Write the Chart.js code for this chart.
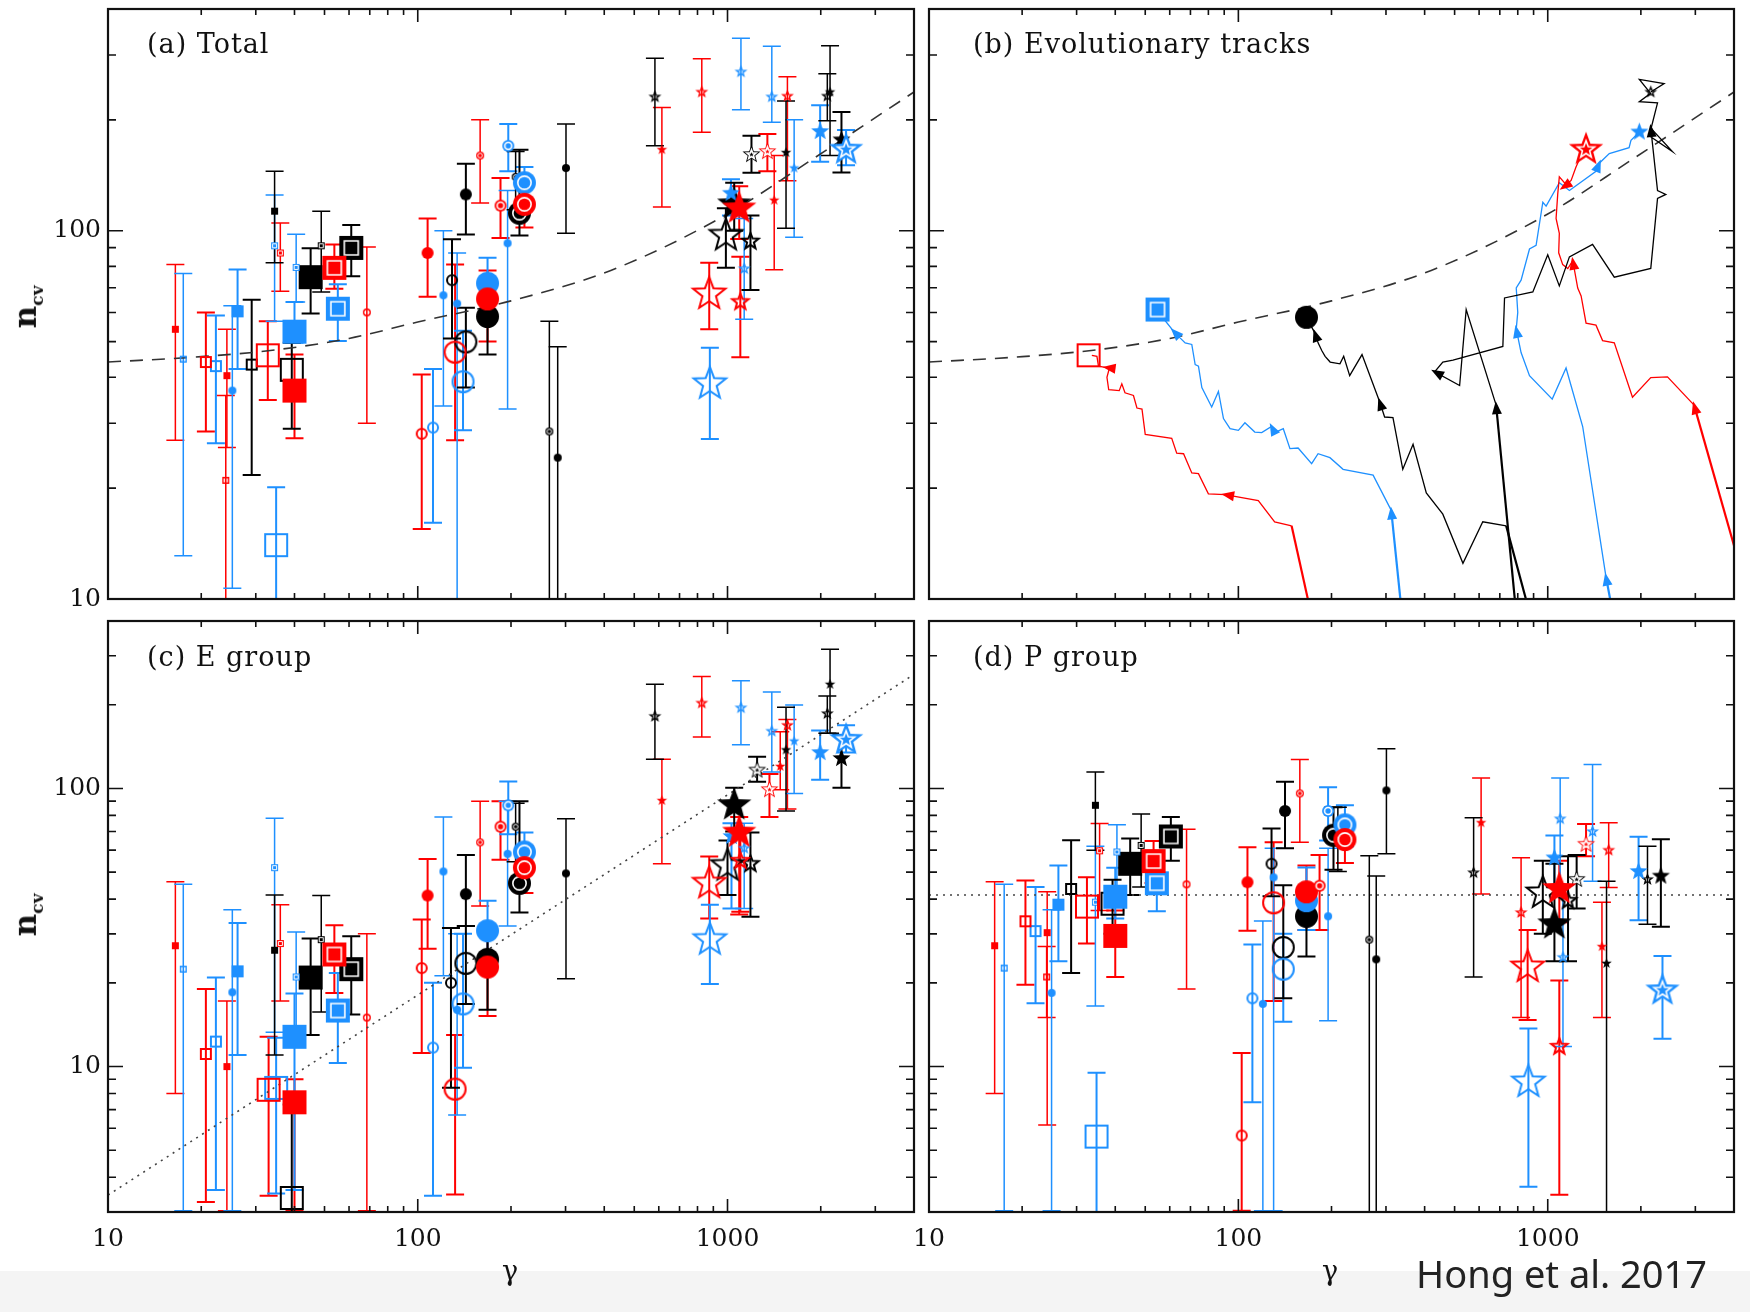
<!DOCTYPE html>
<html>
<head>
<meta charset="utf-8">
<title>n_cv versus gamma</title>
<script src="https://cdn.jsdelivr.net/npm/chart.js@4.4.1/dist/chart.umd.min.js"></script>
<style>
  body { margin: 0; width: 1750px; height: 1312px; position: relative; overflow: hidden; background: #fff; }
  canvas { position: absolute; }
  .band { position: absolute; left: 0; top: 1271px; width: 1750px; height: 41px; background: #f4f4f4; }
  .txt { position: absolute; white-space: nowrap; color: #111; font-family: "DejaVu Serif", serif; }
  .panel { font-size: 27px; line-height: 31px; letter-spacing: 1px; }
  .ncv { font-size: 31px; font-weight: bold; line-height: 36px; transform: translate(-50%, -50%) rotate(-90deg); }
  .ncv sub { font-size: 17px; }
  .gam { font-size: 27px; line-height: 31px; transform: translateX(-50%); }
  .credit { position: absolute; left: 1416px; top: 1250px; font-family: "Noto Sans", sans-serif; font-size: 38px; line-height: 46px; color: #222; white-space: nowrap; }
</style>
</head>
<body>
<div class="band"></div>
<canvas id="pa" width="946" height="710" style="left:-2px;top:-21px"></canvas>
<canvas id="pb" width="945" height="710" style="left:819px;top:-21px"></canvas>
<canvas id="pc" width="946" height="711" style="left:-2px;top:591px"></canvas>
<canvas id="pd" width="945" height="711" style="left:819px;top:591px"></canvas>

<div class="txt panel" style="left:147px;top:28px">(a) Total</div>
<div class="txt panel" style="left:973px;top:28px">(b) Evolutionary tracks</div>
<div class="txt panel" style="left:147px;top:641px">(c) E group</div>
<div class="txt panel" style="left:973px;top:641px">(d) P group</div>
<div class="txt ncv" style="left:31px;top:307px">n<sub>cv</sub></div>
<div class="txt ncv" style="left:31px;top:915px">n<sub>cv</sub></div>
<div class="txt gam" style="left:510px;top:1255px">γ</div>
<div class="txt gam" style="left:1330px;top:1255px">γ</div>
<div class="credit">Hong et al. 2017</div>

<script>
// axis ticks
const X_TICKS = [10, 20, 30, 40, 50, 60, 70, 80, 90, 100, 200, 300, 400, 500, 600, 700, 800, 900, 1000, 2000, 3000];
const X_LABELS = [10, 100, 1000];
const Y_TICKS_TOP = [10, 20, 30, 40, 50, 60, 70, 80, 90, 100, 200, 300];
const Y_TICKS_BOTTOM = [3, 4, 5, 6, 7, 8, 9, 10, 20, 30, 40, 50, 60, 70, 80, 90, 100, 200, 300];
const Y_LABELS = [10, 100];

// rows: [gamma, n_cv, lower, upper, marker]  marker = shape(s/c/t) fill(f/o/d) size(1-3)
const totalBlack = [
  [29.1, 43.3, 21.7, 64.9, 'so2'], [34.5, 113, 81.9, 145, 'sf1'], [39.2, 41.9, 29, 49.6, 'so3'],
  [45.1, 74.8, 59.6, 89.6, 'sf3'], [48.8, 91, 68.2, 113, 'sd1'], [61, 89.8, 75.2, 103.7, 'sd3'],
  [129, 73.4, 51, 94.8, 'co2'], [143, 49.9, 37.5, 61.8, 'co3'], [143, 125.5, 97.6, 152, 'cf2'],
  [168, 58.5, 46.1, 70, 'cf3'], [207, 140, 114, 164, 'cd1'], [213, 111.6, 97, 166, 'cd3'],
  [266, 28.5, 1, 56.8, 'cd1'], [283, 24.2, 1, 48.4, 'cf1'], [301, 148, 98.4, 195, 'cf1'],
  [583, 231, 170, 294, 'to1'], [988, 97.1, 79.3, 115, 'to3'], [1051, 118, 100, 135, 'tf3'],
  [1186, 93.6, 69, 110, 'to2'], [1195, 161, 143.6, 181, 'td2'], [1545, 163, 101.5, 225, 'tf1'],
  [2143, 238, 160, 318, 'tf1'], [2100, 232, 199, 267, 'to1'], [2333, 176.5, 144, 210, 'tf2']
];
const totalRed = [
  [16.5, 54, 27, 81, 'sf1'], [20.7, 44, 28.5, 60, 'so2'], [24.2, 40.4, 25.8, 54, 'sf1'],
  [24, 21, 1, 35.7, 'so1'], [32.8, 45.9, 34.7, 56.8, 'so3'], [36, 87, 68.5, 105, 'sd1'],
  [40, 36.8, 27.3, 46.1, 'sf3'], [53.8, 79.3, 69.6, 91.8, 'sd3'], [68.5, 60, 30, 90.3, 'co1'],
  [103, 28.1, 15.5, 40.7, 'co2'], [107.6, 87, 66.2, 108, 'cf2'], [132, 46.8, 27, 81, 'co3'],
  [159, 160, 119, 200, 'cd1'], [168, 65.3, 50, 78, 'cf3'], [185, 117, 95.5, 139, 'cd2'],
  [221, 118, 102, 132, 'cd3'], [614, 166, 116, 216, 'tf1'], [826, 238, 185, 293, 'to1'],
  [873, 67.3, 54, 81.8, 'to3'], [1091, 115, 95, 132, 'tf3'], [1100, 64.1, 45.3, 85, 'to2'],
  [1345, 164, 145, 183, 'td2'], [1415, 121, 78.3, 160, 'tf1'], [1561, 232, 136.7, 262, 'to1']
];
const totalBlue = [
  [17.5, 44.8, 13.1, 76.5, 'so1'], [22.3, 42.9, 26.5, 58.9, 'so2'], [25.2, 36.8, 10.7, 62.6, 'cf1'],
  [26.2, 60.4, 42.1, 78.5, 'sf2'], [34.5, 91, 56.8, 125, 'sd1'], [34.9, 14, 1, 20.1, 'so3'],
  [40, 53.2, 49.6, 64, 'sf3'], [40.5, 79.5, 64, 97.8, 'sd1'], [55.2, 61.4, 50.2, 71.6, 'sd3'],
  [112, 29.2, 16.1, 42.1, 'co2'], [121, 66.8, 33.4, 100, 'cf1'], [134, 63.4, 1, 87, 'cf1'],
  [140, 38.9, 28.7, 53.5, 'co3'], [168, 72, 60, 84.5, 'cf3'], [195, 92.5, 32.8, 128.5, 'cf1'],
  [196, 170, 145, 195, 'cd2'], [221, 135, 120, 149, 'cd3'], [877, 38.4, 27.2, 48.1, 'to3'],
  [1026, 126.4, 110, 138, 'tf2'], [1105, 270, 213, 333, 'to1'], [1132, 78.9, 57.5, 108, 'to1'],
  [1390, 231, 197, 317, 'to1'], [1641, 148, 96, 200, 'tf1'], [1991, 186, 154, 219, 'tf2'],
  [2414, 166, 150.6, 187.6, 'td3']
];

const eBlack = [
  [34.5, 26.2, 11, 41.4, 'sf1'], [39.2, 3.37, 1, 7.3, 'so3'], [45.1, 20.9, 13, 28.9, 'sf3'],
  [48.8, 28.6, 15.7, 41.2, 'sd1'], [61, 22.4, 15.4, 29.4, 'sd3'], [128, 20, 8.4, 31.5, 'co2'],
  [143, 23.5, 16.8, 32, 'co3'], [143, 41.7, 32, 57.6, 'cf2'], [168, 24.3, 16, 30, 'cf3'],
  [207, 72.9, 54.5, 88.4, 'cd1'], [213, 45.6, 35.8, 90, 'cd3'], [301, 49.5, 20.7, 77.8, 'cf1'],
  [583, 181.7, 127.4, 237, 'to1'], [1000, 52.8, 41.4, 65, 'to3'], [1051, 87.1, 70, 100.6, 'tf3'],
  [1186, 53.6, 34.6, 69.4, 'to2'], [1246, 116.4, 105.6, 130, 'td2'], [1545, 137.6, 82.9, 196, 'tf1'],
  [2143, 236.8, 158, 316.6, 'tf1'], [2100, 185.8, 158, 214.9, 'to1'], [2333, 128.2, 100.6, 155.6, 'tf2']
];
const eRed = [
  [16.5, 27.2, 8, 46.2, 'sf1'], [20.7, 11.1, 3.26, 19, 'so2'], [24.2, 10, 3.03, 17.2, 'sf1'],
  [33, 8.25, 3.43, 12.8, 'so3'], [36, 27.7, 17.2, 38.2, 'sd1'], [40, 7.44, 3.03, 9, 'sf3'],
  [53.8, 25.3, 18.4, 32.2, 'sd3'], [68.5, 15, 3.03, 30, 'co1'], [103, 22.6, 11.2, 33.8, 'co2'],
  [107.6, 41.2, 26.5, 55.8, 'cf2'], [132, 8.3, 3.47, 13, 'co3'], [159, 64, 37.8, 89.9, 'cd1'],
  [168, 22.8, 15.2, 30, 'cf3'], [185, 72.9, 55.4, 89.9, 'cd2'], [221, 51.9, 42.1, 62, 'cd3'],
  [614, 90.5, 53.6, 127.4, 'tf1'], [826, 202.8, 153, 252.6, 'to1'], [873, 45.6, 34.1, 56.9, 'to3'],
  [1091, 69.4, 35.2, 79, 'tf3'], [1100, 55, 36, 70, 'to2'], [1366, 99, 79, 112.7, 'td2'],
  [1480, 120, 99, 160, 'tf1'], [1561, 168.7, 84.3, 177, 'to1']
];
const eBlue = [
  [17.5, 22.4, 3.03, 45.2, 'so1'], [22.3, 12.3, 3.6, 20.9, 'so2'], [25.2, 18.5, 3.03, 36.6, 'cf1'],
  [26.2, 22, 11, 32.8, 'sf2'], [34.5, 51.9, 13.3, 78.2, 'sd1'], [34.9, 8.38, 3.5, 12.7, 'so3'],
  [40, 12.8, 3.6, 18.3, 'sf3'], [40.5, 21, 13.3, 30.5, 'sd1'], [55.2, 15.9, 10.3, 21.7, 'sd3'],
  [112, 11.7, 3.43, 20, 'co2'], [121, 50.3, 21.2, 79, 'cf1'], [134, 16, 6.7, 30, 'cf1'],
  [140, 16.8, 9.9, 30, 'co3'], [168, 30.8, 24, 39.5, 'cf3'], [195, 58.2, 32, 90, 'cf1'],
  [196, 87, 68.4, 106, 'cd2'], [221, 59.1, 50, 69.4, 'cd3'], [877, 28.6, 19.8, 38.2, 'to3'],
  [1030, 67.2, 37, 75, 'tf2'], [1105, 195, 143.6, 244, 'to1'], [1132, 61, 37, 75, 'to1'],
  [1390, 160.7, 114.5, 222, 'to1'], [1641, 148, 96, 199.7, 'tf1'], [1991, 134.6, 107.4, 161.7, 'tf2'],
  [2414, 149.6, 134.6, 168.7, 'td3']
];

const pBlack = [
  [28.8, 43.5, 21.7, 65.1, 'so2'], [34.5, 87, 60, 114.5, 'sf1'], [39.2, 38.5, 30, 47, 'so3'],
  [44.7, 53.6, 41.4, 66.1, 'sf3'], [48.5, 62.4, 44.2, 81, 'sd1'], [60.5, 67.2, 55, 79, 'sd3'],
  [128, 53.6, 41, 71.8, 'co2'], [139.7, 26.8, 17.6, 44.9, 'co3'], [141.5, 83, 61, 105.6, 'cf2'],
  [166, 34.7, 24.9, 44, 'cf3'], [209.7, 67.9, 50.3, 85.6, 'cd1'], [203, 67.9, 51, 85.6, 'cd3'],
  [265, 28.6, 1, 57.3, 'cd1'], [279, 24.3, 1, 48.4, 'cf1'], [301, 98.4, 58.2, 139, 'cf1'],
  [576, 49.8, 21, 78.5, 'to1'], [964, 42.1, 30, 55, 'to3'], [1051, 32.5, 23.9, 53.6, 'tf3'],
  [1163, 39.5, 23.9, 57, 'to2'], [1240, 47.1, 37, 57.6, 'td2'], [1549, 23.5, 1, 46.4, 'tf1'],
  [2101, 47.1, 32.5, 62, 'to1'], [2321, 48.4, 31.8, 65.7, 'tf2']
];
const pRed = [
  [16.3, 27.2, 8, 46.2, 'sf1'], [20.5, 33.3, 19.7, 46.7, 'so2'], [24.1, 30.3, 6.17, 42.5, 'sf1'],
  [24, 21, 15, 27, 'so1'], [32.4, 37.6, 27.7, 47.9, 'so3'], [35.6, 59.7, 36.4, 74.8, 'sd1'],
  [40, 29.5, 21, 36.4, 'sf3'], [53.2, 54.8, 45.7, 64.7, 'sd3'], [68, 45.2, 19, 71.3, 'co1'],
  [102.5, 5.65, 3.03, 11.2, 'co2'], [107, 46, 30.8, 61.4, 'cf2'], [130, 38.8, 17.2, 64.1, 'co3'],
  [158, 96, 64.1, 127, 'cd1'], [166, 42.5, 31, 52.8, 'cf3'], [183, 44.7, 31, 57.6, 'cd2'],
  [221, 65.5, 54, 75.2, 'cd3'], [609, 75.3, 41.7, 109, 'tf1'], [820, 35.8, 15, 56.3, 'to1'],
  [861, 22.8, 14.7, 31, 'to3'], [1090, 43.5, 33, 55, 'tf3'], [1090, 11.8, 3.46, 20.4, 'to2'],
  [1330, 63, 57, 74.5, 'td2'], [1497, 27, 15, 39, 'tf1'], [1574, 60, 44, 75.3, 'to1']
];
const pBlue = [
  [17.5, 22.6, 3.03, 45.2, 'so1'], [22.1, 30.7, 16.9, 44.2, 'so2'], [24.9, 18.4, 3.03, 36.6, 'cf1'],
  [26.2, 38.2, 23.9, 52.8, 'sf2'], [34.5, 39, 16.5, 62, 'sd1'], [34.8, 5.6, 1, 9.5, 'so3'],
  [40, 40.8, 34.1, 51.9, 'sf3'], [40.5, 59.1, 40, 74, 'sd1'], [54.5, 45.6, 36.2, 49.5, 'sd3'],
  [111, 17.6, 7.44, 27.5, 'co2'], [120, 16.8, 3.03, 33.4, 'cf1'], [130, 47.9, 3.03, 61, 'cf1'],
  [139.7, 22.4, 14.5, 30, 'co3'], [166, 39.5, 31, 52, 'cf3'], [195, 34.7, 14.6, 61, 'cf1'],
  [195, 83, 65, 101, 'cd2'], [221, 74, 62, 87, 'cd3'], [866, 8.8, 3.7, 13.7, 'to3'],
  [1051, 56.3, 45, 67.7, 'tf2'], [1097, 77.8, 45, 109, 'to1'], [1120, 24.7, 11.8, 45, 'to1'],
  [1396, 70, 46.4, 122, 'to1'], [1966, 50.3, 33.6, 67, 'tf2'], [2349, 18.8, 12.6, 25, 'td3']
];

// panel (b): evolutionary tracks [gamma, n_cv], start -> end
const redTrackA = [[170, 9.5], [148.6, 15.8], [131, 16.2], [116, 18.5], [90.6, 19.2], [80, 19.3], [74.3, 21.9],
  [70.7, 22], [66.5, 24.8], [63.2, 24.9], [60.9, 27.3], [50, 28], [48.8, 32.8], [47, 33], [45.8, 35.7],
  [43, 36.3], [42, 38.4], [41.2, 36.8], [38.1, 37], [37.6, 40], [38.3, 42.4], [37.5, 42.5], [35.3, 42.9],
  [34.9, 45.6], [33.6, 45.9]];
const blueTrackA = [[336, 9.5], [312, 17.4], [272.6, 21.7], [218, 22.5], [197.7, 24.2], [181, 24.8], [172.5, 23.3],
  [156, 25.7], [146.8, 25.6], [139.7, 29], [131, 28.3], [128, 29.4], [119, 28.3], [113, 28.4], [105, 30.1],
  [100, 28.7], [94, 29], [89.5, 30.9], [86.2, 36.6], [82, 33.2], [76.2, 37.5], [74.3, 42.9], [72.5, 43.3],
  [70.7, 49.1], [67.3, 49.6], [64.9, 51.1], [61.7, 53.4], [57.5, 57.5]];
const blackTrackA = [[870, 9.3], [734, 15.8], [616.6, 16.2], [532, 12.5], [458, 17], [405, 19.4], [367, 26.3],
  [340, 22.5], [316, 31.1], [297, 31.2], [286, 34.4], [251, 46.1], [229, 40.4], [219, 45.6], [213, 43.5],
  [198, 44], [190.7, 45.6], [186, 47.3], [181, 49.6], [176.6, 52.8], [171, 55.5]];
const blackTrackB = [[790, 9.2], [681, 33.6], [545, 61.1], [519, 38], [431, 41.4], [458, 44], [494, 44.5],
  [716, 48.5], [725, 65.7], [895, 68.2], [1000, 86], [1090, 70.8], [1175, 84.9], [1396, 91.8], [1641, 74.8],
  [2153, 79], [2264, 122.4], [2408, 125.5], [2264, 128.5], [2153, 190], [2529, 164], [2128, 181],
  [2264, 222.5], [1977, 224], [2150, 236], [1977, 257.6], [2378, 251], [2153, 238]];
const redTrackB = [[4365, 10.8], [2972, 33.6], [2438, 40.1], [2153, 39.9], [1879, 35.3], [1641, 49.6], [1504, 50.3],
  [1432, 55.4], [1330, 56.1], [1282, 66.5], [1250, 69.9], [1205, 82.9], [1161, 78.9], [1118, 80.9],
  [1085, 87.1], [1090, 98.4], [1064, 108], [1077, 125.5], [1090, 140], [1150, 133], [1120, 131],
  [1190, 137], [1234, 149], [1282, 160], [1320, 165]];
const blueTrackB = [[1650, 8.5], [1542, 11.5], [1297, 29.4], [1146, 42.4], [1034, 34.9], [873, 40.4], [820, 46.7],
  [791, 54.1], [800, 60], [791, 69.9], [820, 73.4], [873, 89.2], [917, 91.3], [964, 119.5], [988, 116.6],
  [1090, 135], [1175, 128.6], [1432, 145], [1468, 152.5], [1581, 162], [1832, 168], [1858, 176], [1960, 184]];
const trackEndsRed = [[32.8, 45.9, null, null, 'so3'], [1330, 166, null, null, 'td3']];
const trackEndsBlue = [[54.8, 61.1, null, null, 'sd3'], [1977, 185.4, null, null, 'tf2']];
const trackEndsBlack = [[166, 58.2, null, null, 'cf3'], [2153, 238, null, null, 'to1']];

// reference lines
const curveTotal = [[10, 44], [20, 45.5], [35, 47.5], [60, 51], [100, 56.5], [200, 64.5], [420, 78], [1000, 111], [1850, 155], [4000, 238]];
const lineE = [[10, 3.45], [4000, 257]];
const lineP = [[10, 41.4], [4000, 41.4]];

Chart.defaults.font.family = '"DejaVu Serif", serif';
Chart.defaults.color = '#111';

const BLACK = '#000000', RED = '#ff0000', BLUE = '#1e90ff';
const MARK_SIZE = { s: [7, 12, 24], c: [8, 12, 23], t: [11, 19, 36] };
const CAP = 9;

function isDecade(v) {
  const l = Math.log10(v);
  return Math.abs(l - Math.round(l)) < 1e-9;
}

function markerPath(g, shape, r) {
  g.beginPath();
  if (shape === 's') {
    g.rect(-r, -r, 2 * r, 2 * r);
  } else if (shape === 'c') {
    g.arc(0, 0, r, 0, Math.PI * 2);
  } else {
    for (let i = 0; i < 10; i++) {
      const rr = i % 2 ? r * 0.42 : r;
      const a = -Math.PI / 2 + i * Math.PI / 5;
      g.lineTo(rr * Math.cos(a), rr * Math.sin(a));
    }
    g.closePath();
  }
}

const markerCache = {};
function marker(code, color) {
  const key = code + color;
  if (markerCache[key]) return markerCache[key];
  const shape = code[0], fill = code[1], sz = +code[2];
  const d = MARK_SIZE[shape][sz - 1];
  const lw = sz === 1 ? 1.4 : 2;
  const c = document.createElement('canvas');
  c.width = c.height = Math.ceil(d + 4);
  const g = c.getContext('2d');
  g.translate(c.width / 2, c.height / 2);
  g.fillStyle = color;
  g.strokeStyle = color;
  g.lineWidth = lw;
  const r = d / 2;
  if (fill === 'f') {
    markerPath(g, shape, r);
    g.fill();
  } else if (fill === 'o') {
    markerPath(g, shape, r - lw / 2);
    g.stroke();
  } else {
    markerPath(g, shape, r);
    g.fill();
    g.strokeStyle = '#fff';
    g.lineWidth = sz === 1 ? 1 : 1.6;
    markerPath(g, shape, r * (shape === 't' ? 0.5 : 0.58));
    g.stroke();
  }
  markerCache[key] = c;
  return c;
}

const errorBars = {
  id: 'errorBars',
  beforeDatasetsDraw(chart) {
    const { ctx, chartArea: a, scales: { x, y } } = chart;
    ctx.save();
    ctx.beginPath();
    ctx.rect(a.left, a.top, a.right - a.left, a.bottom - a.top);
    ctx.clip();
    chart.data.datasets.forEach(ds => {
      if (!ds.errorBars) return;
      ctx.strokeStyle = ds.borderColor;
      ds.data.forEach(p => {
        if (p.lo == null) return;
        const px = x.getPixelForValue(p.x);
        const y1 = y.getPixelForValue(p.lo), y2 = y.getPixelForValue(p.hi);
        ctx.lineWidth = p.k[2] === '1' ? 1.5 : 2;
        ctx.beginPath();
        ctx.moveTo(px, y1); ctx.lineTo(px, y2);
        ctx.moveTo(px - CAP, y1); ctx.lineTo(px + CAP, y1);
        ctx.moveTo(px - CAP, y2); ctx.lineTo(px + CAP, y2);
        ctx.stroke();
      });
    });
    ctx.restore();
  }
};

const trackArrows = {
  id: 'trackArrows',
  afterDatasetsDraw(chart) {
    const ctx = chart.ctx;
    chart.data.datasets.forEach((ds, i) => {
      if (!ds.arrowAt) return;
      const pts = chart.getDatasetMeta(i).data;
      ctx.save();
      ctx.fillStyle = ds.borderColor;
      ds.arrowAt.forEach(j => {
        const p = pts[j], q = pts[j - 1];
        const ang = Math.atan2(p.y - q.y, p.x - q.x);
        ctx.save();
        ctx.translate(p.x, p.y);
        ctx.rotate(ang);
        ctx.beginPath();
        ctx.moveTo(4, 0);
        ctx.lineTo(-9, -5);
        ctx.lineTo(-9, 5);
        ctx.closePath();
        ctx.fill();
        ctx.restore();
      });
      ctx.restore();
    });
  }
};

const idlFrame = {
  id: 'idlFrame',
  afterDatasetsDraw(chart) {
    const { ctx, chartArea: a, scales: { x, y } } = chart;
    ctx.save();
    ctx.strokeStyle = '#111';
    ctx.lineWidth = 1.6;
    ctx.beginPath();
    x.ticks.forEach(t => {
      if (t.value <= x.min || t.value >= x.max) return;
      const px = x.getPixelForValue(t.value);
      const len = isDecade(t.value) ? 13 : 6;
      ctx.moveTo(px, a.bottom); ctx.lineTo(px, a.bottom - len);
      ctx.moveTo(px, a.top); ctx.lineTo(px, a.top + len);
    });
    y.ticks.forEach(t => {
      if (t.value <= y.min || t.value >= y.max) return;
      const py = y.getPixelForValue(t.value);
      const len = isDecade(t.value) ? 15 : 8;
      ctx.moveTo(a.left, py); ctx.lineTo(a.left + len, py);
      ctx.moveTo(a.right, py); ctx.lineTo(a.right - len, py);
    });
    ctx.stroke();
    ctx.lineWidth = 2.2;
    ctx.strokeRect(a.left, a.top, a.right - a.left, a.bottom - a.top);
    ctx.restore();
  }
};

function xAxis(showLabels) {
  return {
    type: 'logarithmic', position: 'bottom', min: 10, max: 4000,
    grid: { display: false, drawTicks: false },
    border: { display: false },
    afterBuildTicks: s => { s.ticks = X_TICKS.map(v => ({ value: v })); },
    afterFit: s => { s.height = 60; },
    ticks: {
      display: showLabels, autoSkip: false, maxRotation: 0, minRotation: 0, padding: 12,
      font: { size: 25 },
      callback: v => X_LABELS.includes(v) ? String(v) : ''
    }
  };
}

function yAxis(min, tickValues, showLabels) {
  return {
    type: 'logarithmic', position: 'left', min: min, max: 400,
    grid: { display: false, drawTicks: false },
    border: { display: false },
    afterBuildTicks: s => { s.ticks = tickValues.map(v => ({ value: v })); },
    afterFit: s => { s.width = 80; },
    ticks: {
      display: showLabels, autoSkip: false, padding: 7,
      font: { size: 25 },
      callback: v => Y_LABELS.includes(v) ? String(v) : ''
    }
  };
}

function pointSet(rows, color) {
  return {
    data: rows.map(([x, y, lo, hi, k]) => ({ x, y, lo, hi, k })),
    errorBars: true,
    borderColor: color,
    backgroundColor: color,
    showLine: false,
    pointRadius: 5,
    pointStyle: c => c.raw ? marker(c.raw.k, color) : 'circle'
  };
}

function lineSet(rows, color, extra) {
  return Object.assign({
    data: rows.map(([x, y]) => ({ x, y })),
    showLine: true,
    borderColor: color,
    borderWidth: 1.3,
    pointRadius: 0,
    tension: 0,
    clip: 0
  }, extra);
}

function trackSet(rows, color, arrowAt) {
  return lineSet(rows, color, {
    arrowAt: arrowAt,
    segment: { borderWidth: c => c.p0DataIndex === 0 ? 2.2 : 1.3 }
  });
}

const dashedCurve = () => lineSet(curveTotal, '#333', { borderDash: [13, 9], borderWidth: 1.6, cubicInterpolationMode: 'monotone' });

function makePanel(id, datasets, showX, showY, yMin, yTicks) {
  new Chart(document.getElementById(id), {
    type: 'scatter',
    data: { datasets: datasets },
    options: {
      responsive: false,
      animation: false,
      events: [],
      layout: { padding: 30 },
      plugins: { legend: { display: false }, tooltip: { enabled: false } },
      scales: { x: xAxis(showX), y: yAxis(yMin, yTicks, showY) }
    },
    plugins: [errorBars, idlFrame, trackArrows]
  });
}

makePanel('pa', [
  pointSet(totalRed, RED), pointSet(totalBlue, BLUE), pointSet(totalBlack, BLACK), dashedCurve()
], false, true, 10, Y_TICKS_TOP);

makePanel('pb', [
  pointSet(trackEndsRed, RED), pointSet(trackEndsBlue, BLUE), pointSet(trackEndsBlack, BLACK),
  trackSet(redTrackA, RED, [4, 21]),
  trackSet(blueTrackA, BLUE, [1, 11, 26]),
  trackSet(blackTrackA, BLACK, [10, 19]),
  trackSet(blackTrackB, BLACK, [1, 4, 19]),
  trackSet(redTrackB, RED, [1, 11, 20]),
  trackSet(blueTrackB, BLUE, [1, 7, 18]),
  dashedCurve()
], false, false, 10, Y_TICKS_TOP);

makePanel('pc', [
  pointSet(eRed, RED), pointSet(eBlue, BLUE), pointSet(eBlack, BLACK),
  lineSet(lineE, '#444', { borderDash: [2, 5], borderWidth: 1.6 })
], true, true, 3, Y_TICKS_BOTTOM);

makePanel('pd', [
  pointSet(pRed, RED), pointSet(pBlue, BLUE), pointSet(pBlack, BLACK),
  lineSet(lineP, '#444', { borderDash: [2, 5], borderWidth: 1.6 })
], true, false, 3, Y_TICKS_BOTTOM);
</script>
</body>
</html>
